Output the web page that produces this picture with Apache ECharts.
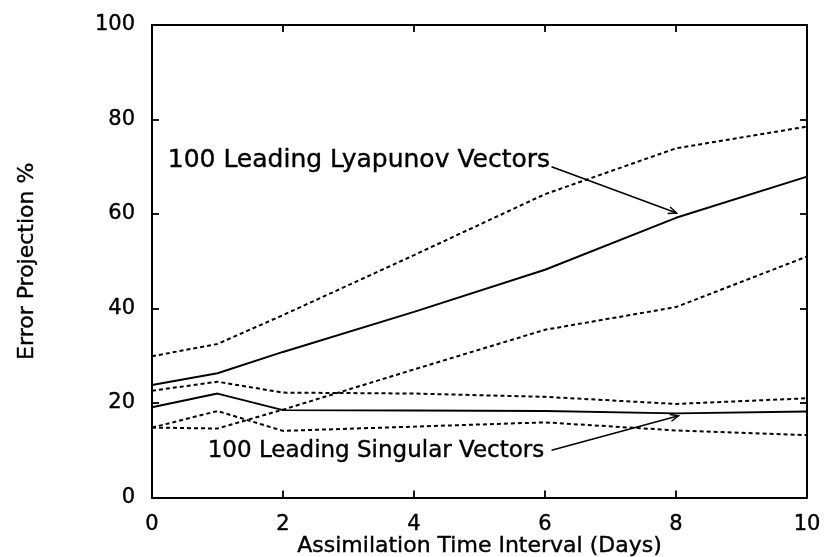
<!DOCTYPE html>
<html>
<head>
    <meta charset="utf-8">
    <title>Error Projection</title>
    <script src="https://cdn.jsdelivr.net/npm/echarts@6.0.0/dist/echarts.min.js"></script>
    <style>
        html, body { margin: 0; padding: 0; background: #fff; }
        #main { width: 824px; height: 557px; }
    </style>
</head>
<body>
<div id="main"></div>
<script>
    // assimilation interval (days)
    var days = [0, 1, 2, 4, 6, 8, 10];
    // Lyapunov vectors: solid line plus dashed spread
    var lyapMean = [23.8, 26.3, 30.8, 39.3, 48.2, 59.2, 67.9];
    var lyapUpper = [29.9, 32.5, 38.6, 51.3, 64.2, 73.9, 78.5];
    var lyapLower = [14.8, 14.6, 18.6, 27.1, 35.5, 40.3, 51.0];
    // singular vectors: solid line plus dashed spread
    var singMean = [19.1, 22.0, 18.5, 18.4, 18.3, 17.8, 18.2];
    var singUpper = [22.6, 24.5, 22.2, 22.0, 21.3, 19.8, 21.0];
    var singLower = [14.8, 18.3, 14.1, 15.0, 15.9, 14.2, 13.2];

    var xTicks = [0, 2, 4, 6, 8, 10];
    var yTicks = [0, 20, 40, 60, 80, 100];

    // annotations in data units: text anchor, arrow start, arrow tip
    var notes = [
        {text: '100 Leading Lyapunov Vectors', at: [0.24, 71.4], from: [6.10, 70.0], to: [8.01, 60.2], size: 25},
        {text: '100 Leading Singular Vectors', at: [0.85, 9.8], from: [6.10, 10.0], to: [8.04, 17.3], size: 23}
    ];

    var FONT = 'DejaVu Sans';

    function pairs(ys) {
        return days.map(function (d, i) { return [d, ys[i]]; });
    }

    function mkLine(name, ys, dashed) {
        return {
            name: name,
            type: 'line',
            xAxisIndex: 0,
            yAxisIndex: 0,
            data: pairs(ys),
            symbol: 'none',
            silent: true,
            lineStyle: {
                color: '#000',
                width: dashed ? 2 : 1.9,
                type: dashed ? [4, 3] : 'solid'
            }
        };
    }

    var tickStyle = {show: true, inside: true, length: 7, lineStyle: {color: '#000', width: 1.8}};
    var lineStyle = {show: true, onZero: false, lineStyle: {color: '#000', width: 2}};
    var labelStyle = {fontSize: 21, fontFamily: FONT, color: '#000', textBorderColor: '#000', textBorderWidth: 0.4};

    var myChart = echarts.init(document.getElementById('main'));

    var option = {
        animation: false,
        backgroundColor: '#fff',
        textStyle: {fontFamily: FONT, color: '#000'},
        grid: {left: 152, right: 17, top: 25, bottom: 59.5, containLabel: false, outerBoundsMode: 'none'},
        xAxis: [{
            type: 'value', position: 'bottom',
            min: xTicks[0], max: xTicks[xTicks.length - 1], interval: 2,
            name: 'Assimilation Time Interval (Days)',
            nameLocation: 'middle', nameGap: 38, nameMoveOverlap: false,
            nameTextStyle: {fontSize: 22, fontFamily: FONT, color: '#000', textBorderColor: '#000', textBorderWidth: 0.4},
            axisLine: lineStyle, axisTick: tickStyle, splitLine: {show: false},
            axisLabel: Object.assign({margin: 17}, labelStyle)
        }, {
            type: 'value', position: 'top',
            min: xTicks[0], max: xTicks[xTicks.length - 1], interval: 2,
            axisLine: lineStyle, axisTick: tickStyle, splitLine: {show: false},
            axisLabel: {show: false}
        }],
        yAxis: [{
            type: 'value', position: 'left',
            min: yTicks[0], max: yTicks[yTicks.length - 1], interval: 20,
            name: 'Error Projection %',
            nameLocation: 'middle', nameGap: 114, nameRotate: 90, nameMoveOverlap: false,
            nameTextStyle: {fontSize: 22, fontFamily: FONT, color: '#000', textBorderColor: '#000', textBorderWidth: 0.4},
            axisLine: lineStyle, axisTick: tickStyle, splitLine: {show: false},
            axisLabel: Object.assign({margin: 17}, labelStyle)
        }, {
            type: 'value', position: 'right',
            min: yTicks[0], max: yTicks[yTicks.length - 1], interval: 20,
            axisLine: lineStyle, axisTick: tickStyle, splitLine: {show: false},
            axisLabel: {show: false}
        }],
        series: [
            mkLine('Lyapunov upper', lyapUpper, true),
            mkLine('Lyapunov', lyapMean, false),
            mkLine('Lyapunov lower', lyapLower, true),
            mkLine('Singular upper', singUpper, true),
            mkLine('Singular', singMean, false),
            mkLine('Singular lower', singLower, true)
        ]
    };
    myChart.setOption(option);

    // labels and arrows placed through the chart's own scales
    var elements = [];
    notes.forEach(function (n) {
        var p = myChart.convertToPixel({gridIndex: 0}, n.at);
        var a = myChart.convertToPixel({gridIndex: 0}, n.from);
        var b = myChart.convertToPixel({gridIndex: 0}, n.to);
        elements.push({
            type: 'text', x: p[0], y: p[1], silent: true,
            style: {text: n.text, fontSize: n.size, fontFamily: FONT, fill: '#000',
                stroke: '#000', lineWidth: 0.4, align: 'left', verticalAlign: 'middle'}
        });
        elements.push({
            type: 'line', silent: true,
            shape: {x1: a[0], y1: a[1], x2: b[0], y2: b[1]},
            style: {stroke: '#000', lineWidth: 1.6}
        });
        var ang = Math.atan2(b[1] - a[1], b[0] - a[0]);
        var len = 9, spread = 0.4;
        elements.push({
            type: 'polyline', silent: true,
            shape: {points: [
                [b[0] - len * Math.cos(ang - spread), b[1] - len * Math.sin(ang - spread)],
                [b[0], b[1]],
                [b[0] - len * Math.cos(ang + spread), b[1] - len * Math.sin(ang + spread)]
            ]},
            style: {stroke: '#000', lineWidth: 1.4, fill: null}
        });
    });
    myChart.setOption({graphic: {elements: elements}});
</script>
</body>
</html>
